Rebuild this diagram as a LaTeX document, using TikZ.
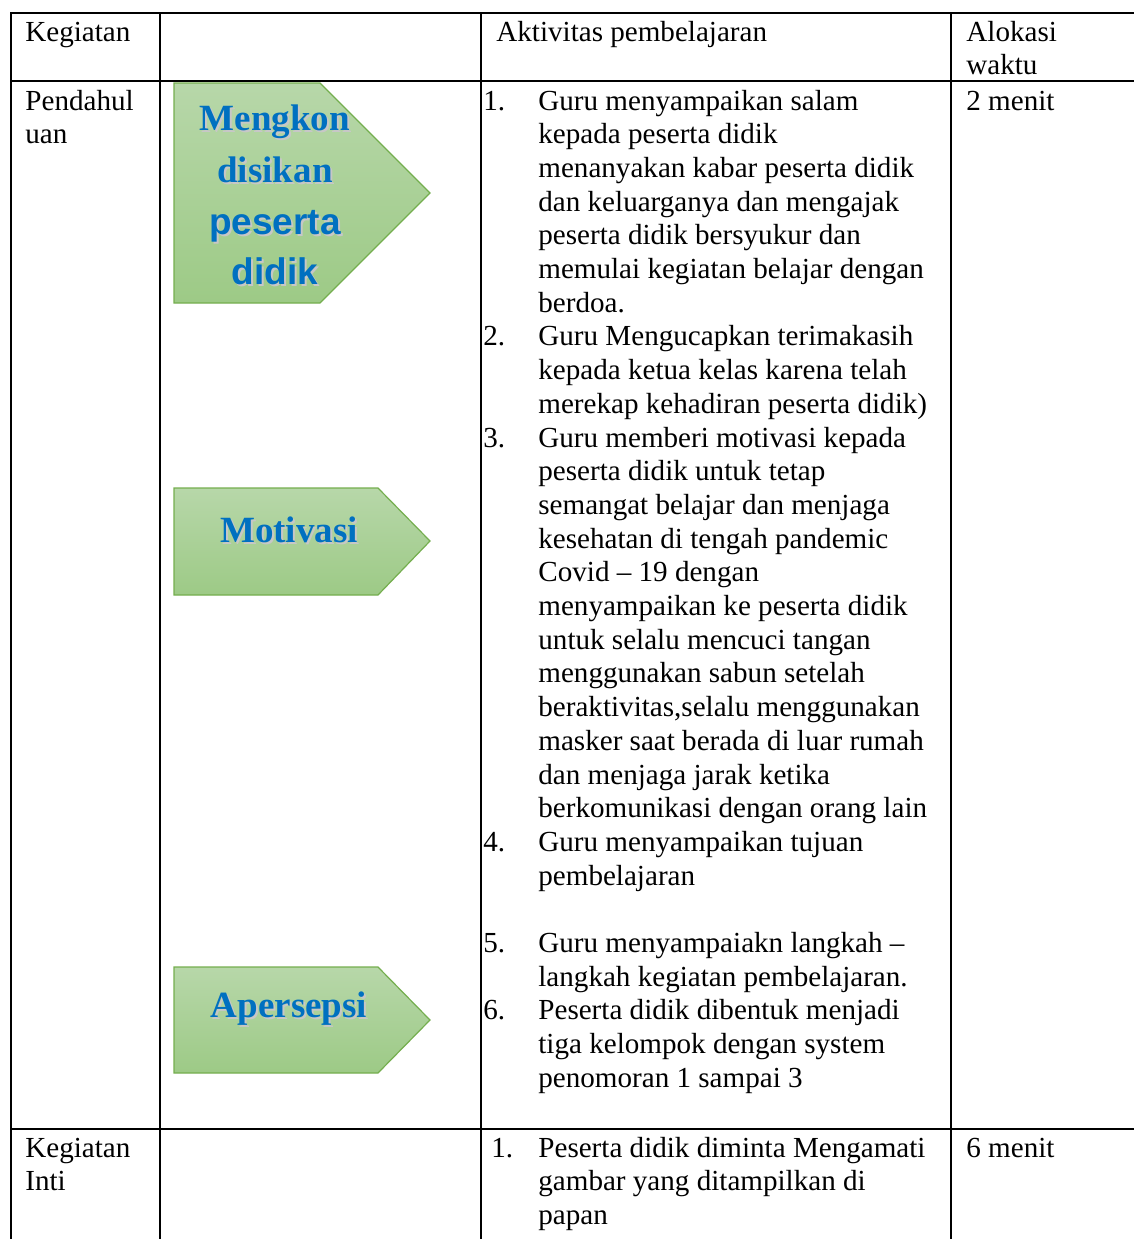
\documentclass[tikz,border=0pt]{standalone}
\usepackage{fontspec}
\setmainfont{Liberation Serif}
\setsansfont{Liberation Sans}
\usetikzlibrary{calc}
\definecolor{steptop}{HTML}{B7D7A9}
\definecolor{stepbot}{HTML}{9DCA86}
\definecolor{stepedge}{HTML}{74AE4E}
\definecolor{stepblue}{HTML}{0070C0}
\newcommand{\cellrows}[1]{\begin{tabular}[t]{@{}l@{}}#1\end{tabular}}

\begin{document}
\begin{tikzpicture}[x=0.5pt,y=-0.5pt,
    cell/.style={anchor=base west, inner sep=0pt, font=\fontsize{14.55}{16.85}\selectfont},
    stepshape/.style={draw=stepedge, line width=0.6pt, top color=steptop, bottom color=stepbot},
    steptext/.style={anchor=base, inner sep=0pt, text=stepblue, font=\fontsize{18.5}{26}\selectfont\bfseries},
    stepshadow/.style={steptext, text=black!22},
    grid/.style={line width=1pt}]
    \useasboundingbox (0,0) rectangle (1134,1239);

    % table rules
    \draw[grid] (1134,13) -- (11,13) -- (11,1239);
    \draw[grid] (11,81) -- (1134,81);
    \draw[grid] (11,1129) -- (1134,1129);
    \draw[grid] (160,13) -- (160,1239);
    \draw[grid] (481,13) -- (481,1239);
    \draw[grid] (951,13) -- (951,1239);

    % header row
    \node[cell] (hkeg) at (25,41) {Kegiatan};
    \node[cell] (hakt) at (496,41) {Aktivitas pembelajaran};
    \node[cell] (halo) at (966,41) {\cellrows{Alokasi\\waktu}};

    % pendahuluan
    \node[cell] (pend) at (25,110) {\cellrows{Pendahul\\uan}};
    \node[cell] (pwkt) at (966,110) {2 menit};

    \node[cell] (n1) at (483,110) {1.};
    \node[cell] (t1) at (538,110) {\cellrows{Guru menyampaikan salam\\kepada peserta didik\\menanyakan kabar peserta didik\\dan keluarganya dan mengajak\\peserta didik bersyukur dan\\memulai kegiatan belajar dengan\\berdoa.}};
    \node[cell] (n2) at (483,345.9) {2.};
    \node[cell] (t2) at (538,345.9) {\cellrows{Guru Mengucapkan terimakasih\\kepada ketua kelas karena telah\\merekap kehadiran peserta didik)}};
    \node[cell] (n3) at (483,447) {3.};
    \node[cell] (t3) at (538,447) {\cellrows{Guru memberi motivasi kepada\\peserta didik untuk tetap\\semangat belajar dan menjaga\\kesehatan di tengah pandemic\\Covid -- 19 dengan\\menyampaikan ke peserta didik\\untuk selalu mencuci tangan\\menggunakan sabun setelah\\beraktivitas,selalu menggunakan\\masker saat berada di luar rumah\\dan menjaga jarak ketika\\berkomunikasi dengan orang lain}};
    \node[cell] (n4) at (483,851.4) {4.};
    \node[cell] (t4) at (538,851.4) {\cellrows{Guru menyampaikan tujuan\\pembelajaran}};
    \node[cell] (n5) at (483,952.5) {5.};
    \node[cell] (t5) at (538,952.5) {\cellrows{Guru menyampaiakn langkah --\\langkah kegiatan pembelajaran.}};
    \node[cell] (n6) at (483,1019.9) {6.};
    \node[cell] (t6) at (538,1019.9) {\cellrows{Peserta didik dibentuk menjadi\\tiga kelompok dengan system\\penomoran 1 sampai 3}};

    % green steps
    \path[stepshape] (174,83) -- (320,83) -- (430,193) -- (320,303) -- (174,303) -- cycle;
    \path[stepshape] (174,488) -- (378,488) -- (430,541) -- (378,595) -- (174,595) -- cycle;
    \path[stepshape] (174,967) -- (378,967) -- (430,1020) -- (378,1073) -- (174,1073) -- cycle;

    \node[stepshadow] (k1s) at (277,132) {\rmfamily Mengkon};
    \node[stepshadow] (k2s) at (277,184) {\rmfamily disikan};
    \node[stepshadow] (k3s) at (277,236) {\sffamily peserta};
    \node[stepshadow] (k4s) at (277,286) {\sffamily didik};
    \node[steptext] (k1) at (275,130) {\rmfamily Mengkon};
    \node[steptext] (k2) at (275,182) {\rmfamily disikan};
    \node[steptext] (k3) at (275,234) {\sffamily peserta};
    \node[steptext] (k4) at (275,284) {\sffamily didik};

    \node[stepshadow] (mots) at (291,544) {Motivasi};
    \node[steptext] (mot) at (289,542) {Motivasi};
    \node[stepshadow] (aps) at (291,1019) {Apersepsi};
    \node[steptext] (ap) at (289,1017) {Apersepsi};

    % kegiatan inti
    \node[cell] (inti) at (25,1157) {\cellrows{Kegiatan\\Inti}};
    \node[cell] (in1) at (491,1157) {1.};
    \node[cell] (it1) at (538,1157) {\cellrows{Peserta didik diminta Mengamati\\gambar yang ditampilkan di\\papan}};
    \node[cell] (iwkt) at (966,1157) {6 menit};
\end{tikzpicture}
\end{document}
